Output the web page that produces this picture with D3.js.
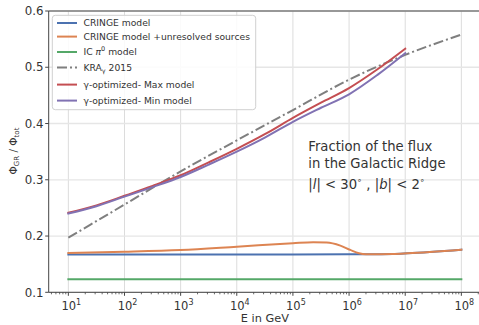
<!DOCTYPE html>
<html><head><meta charset="utf-8">
<script src="https://cdn.jsdelivr.net/npm/d3@7"></script>
<style>body{margin:0;background:#fff}svg{display:block;font-family:"DejaVu Sans",sans-serif}</style>
</head><body><svg id="c" width="479" height="325"></svg>
<script>
// ---- data ----
const xTickExps = [1,2,3,4,5,6,7,8];
const yTicks = [0.1,0.2,0.3,0.4,0.5,0.6];

const cringeE = [1e1, 1e3, 1e5, 1e6, 2e6, 6e6, 1.1e7, 1e8];
const cringeV = [0.1672, 0.1673, 0.1674, 0.1675, 0.1676, 0.1682, 0.1694, 0.1758];

const unresE = [1e1, 1e2, 1e3, 1e4, 1e5, 2.3e5, 4e5, 7e5, 1.05e6, 1.5e6, 2e6, 6e6, 1.1e7, 1e8];
const unresV = [0.1700, 0.1722, 0.1753, 0.1811, 0.1872, 0.1890, 0.1886, 0.1830, 0.1753, 0.1694, 0.1676, 0.1682, 0.1694, 0.1758];

const icE = [1e1, 1e8];
const icV = [0.1231, 0.1231];

const kraE = [1e1, 1e2, 1e3, 1e4, 1e5, 1e6, 1e7, 1e8];
const kraV = [0.197, 0.256, 0.315, 0.370, 0.424, 0.478, 0.522, 0.558];

const optE = [1e1, 3.16e1, 1e2, 3.16e2, 1e3, 3.16e3, 1e4, 3.16e4, 1e5, 3.16e5, 1e6, 3.16e6, 1e7];
const maxV = [0.2415, 0.2545, 0.2715, 0.289, 0.308, 0.331, 0.355, 0.381, 0.410, 0.437, 0.463, 0.496, 0.533];
const minV = [0.2400, 0.2530, 0.2700, 0.287, 0.305, 0.327, 0.350, 0.375, 0.403, 0.428, 0.452, 0.486, 0.525];

const labels = ["CRINGE model", "CRINGE model +unresolved sources", "IC π0 model", "KRAγ 2015", "γ-optimized- Max model", "γ-optimized- Min model"];
const colors = ["#4C72B0", "#DD8452", "#55A868", "#7f7f7f", "#C44E52", "#8172B3"];

// ---- layout ----
const svg = d3.select("#c");
const pL = 48.7, pR = 481, pT = 11, pB = 292.3;
const x = d3.scaleLog().domain([Math.pow(10,0.65), Math.pow(10,8.35)]).range([pL, pR]);
const y = d3.scaleLinear().domain([0.1, 0.6]).range([pB, pT]);

const defs = svg.append("defs");
defs.append("clipPath").attr("id","clip").append("rect")
  .attr("x", pL).attr("y", pT).attr("width", pR-pL).attr("height", pB-pT);

// grid
const g = svg.append("g");
xTickExps.forEach(k => {
  g.append("line").attr("x1", x(Math.pow(10,k))).attr("x2", x(Math.pow(10,k)))
   .attr("y1", pT).attr("y2", pB).attr("stroke", "#dcdcdc").attr("stroke-width", 1);
});
yTicks.forEach(v => {
  g.append("line").attr("x1", pL).attr("x2", pR).attr("y1", y(v)).attr("y2", y(v))
   .attr("stroke", "#e6e6e6").attr("stroke-width", 1.3);
});

// series
const series = [
  {E: cringeE, V: cringeV, c: colors[0], dash: null},
  {E: unresE, V: unresV, c: colors[1], dash: null},
  {E: icE, V: icV, c: colors[2], dash: null},
  {E: kraE, V: kraV, c: colors[3], dash: "10,3,2,3"},
  {E: optE, V: maxV, c: colors[4], dash: null},
  {E: optE, V: minV, c: colors[5], dash: null}
];
const line = d3.line().x(d => x(d[0])).y(d => y(d[1])).curve(d3.curveMonotoneX);
const lg = svg.append("g").attr("clip-path", "url(#clip)");
series.forEach(s => {
  lg.append("path").datum(s.E.map((e,i) => [e, s.V[i]]))
    .attr("d", line).attr("fill", "none").attr("stroke", s.c)
    .attr("stroke-width", 2).attr("stroke-dasharray", s.dash)
    .attr("stroke-linecap", s.dash ? "butt" : "square");
});

// spines
svg.append("line").attr("x1", pL).attr("x2", pL).attr("y1", pT).attr("y2", pB).attr("stroke", "#444").attr("stroke-width", 1);
svg.append("line").attr("x1", pL).attr("x2", pR).attr("y1", pB).attr("y2", pB).attr("stroke", "#444").attr("stroke-width", 1);
svg.append("line").attr("x1", pL).attr("x2", pR).attr("y1", pT).attr("y2", pT).attr("stroke", "#444").attr("stroke-width", 1);

// x ticks
const minor = [];
for (let k = 0; k <= 8; k++) for (let m = 2; m <= 9; m++) {
  const v = m * Math.pow(10, k);
  if (v > x.domain()[0] && v < x.domain()[1]) minor.push(v);
}
minor.forEach(v => svg.append("line").attr("x1", x(v)).attr("x2", x(v)).attr("y1", pB).attr("y2", pB+2).attr("stroke", "#444").attr("stroke-width", 0.8));
xTickExps.forEach(k => {
  const xv = x(Math.pow(10,k));
  svg.append("line").attr("x1", xv).attr("x2", xv).attr("y1", pB).attr("y2", pB+3.5).attr("stroke", "#444").attr("stroke-width", 1);
  const t = svg.append("text").attr("x", xv+3).attr("y", 310).attr("text-anchor", "middle")
    .attr("font-size", 11.5).attr("fill", "#333");
  t.append("tspan").text("10");
  t.append("tspan").attr("font-size", 8).attr("dy", -5.5).text(k);
});
// y ticks
yTicks.forEach(v => {
  svg.append("line").attr("x1", pL-3.5).attr("x2", pL).attr("y1", y(v)).attr("y2", y(v)).attr("stroke", "#444").attr("stroke-width", 1);
  svg.append("text").attr("x", 43.5).attr("y", y(v)+4.2).attr("text-anchor", "end")
    .attr("font-size", 11.8).attr("fill", "#333").text(v.toFixed(1));
});

// axis labels
svg.append("text").attr("x", (pL+pR)/2).attr("y", 322).attr("text-anchor", "middle")
  .attr("font-size", 11.3).attr("fill", "#333").text("E in GeV");
const yl = svg.append("text").attr("transform", "translate(17,151) rotate(-90)").attr("text-anchor", "middle")
  .attr("font-size", 10.5).attr("fill", "#333");
yl.append("tspan").text("Φ");
yl.append("tspan").attr("font-size", 7).attr("dy", 2).text("GR");
yl.append("tspan").attr("dy", -2).text(" / Φ");
yl.append("tspan").attr("font-size", 7).attr("dy", 2).text("tot");

// legend
const leg = svg.append("g");
leg.append("rect").attr("x", 52.3).attr("y", 15.3).attr("width", 203.4).attr("height", 94.4).attr("rx", 3)
  .attr("fill", "#fff").attr("fill-opacity", 0.85).attr("stroke", "#d0d0d0").attr("stroke-width", 1);
const rowY = [23, 36.6, 52, 67.6, 84.6, 100.6];
labels.forEach((lab, i) => {
  const s = series[i];
  leg.append("line").attr("x1", 57).attr("x2", 77).attr("y1", rowY[i]).attr("y2", rowY[i])
    .attr("stroke", s.c).attr("stroke-width", 2).attr("stroke-dasharray", s.dash);
  const t = leg.append("text").attr("x", 83.5).attr("y", rowY[i]+3.3).attr("font-size", 9.2).attr("fill", "#333");
  if (i === 2) {
    t.append("tspan").text("IC ");
    t.append("tspan").attr("font-style", "italic").text("π");
    t.append("tspan").attr("font-size", 6.5).attr("dy", -4).text("0");
    t.append("tspan").attr("dy", 4).text(" model");
  } else if (i === 3) {
    t.append("tspan").text("KRA");
    t.append("tspan").attr("font-size", 6.5).attr("dy", 2).text("γ");
    t.append("tspan").attr("dy", -2).text(" 2015");
  } else t.text(lab);
});

// annotation
const ann = svg.append("g").attr("font-size", 13.2).attr("fill", "#333");
ann.append("text").attr("x", 308.3).attr("y", 150.7).text("Fraction of the flux");
ann.append("text").attr("x", 308.3).attr("y", 167.5).text("in the Galactic Ridge");
const m = ann.append("text").attr("x", 308.3).attr("y", 189.3);
m.append("tspan").text("|");
m.append("tspan").attr("font-style", "italic").text("l");
m.append("tspan").text("| < 30");
m.append("tspan").attr("font-size", 8).attr("dy", -6).text("∘");
m.append("tspan").attr("dy", 6).text(" , |");
m.append("tspan").attr("font-style", "italic").text("b");
m.append("tspan").text("| < 2");
m.append("tspan").attr("font-size", 8).attr("dy", -6).text("∘");
</script></body></html>
